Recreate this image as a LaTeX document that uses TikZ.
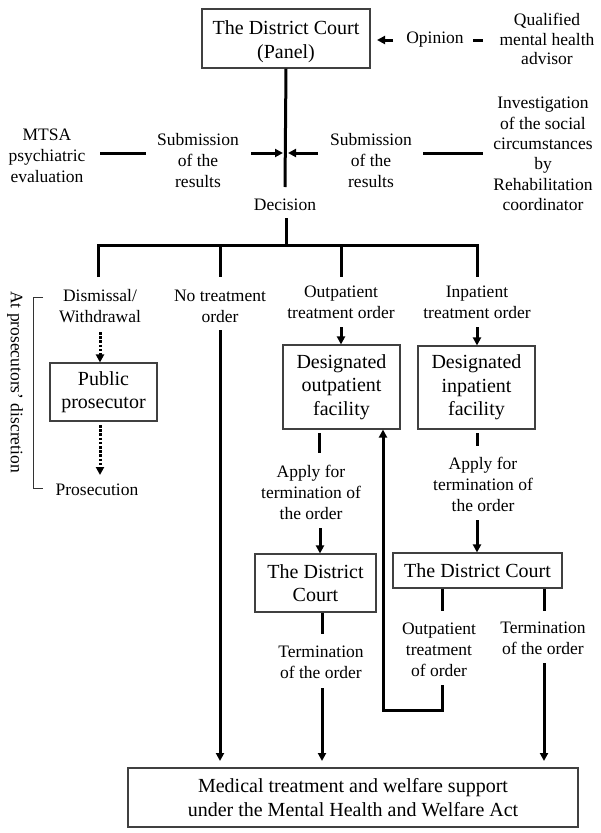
\documentclass[tikz,border=0pt]{standalone}
\usepackage{fontspec}
\setmainfont{Liberation Serif}
\usetikzlibrary{arrows.meta}
\begin{document}
\begin{tikzpicture}[x=1pt,y=-1pt,
  lbl/.style={align=center,font=\fontsize{17.5}{21}\selectfont,inner sep=0pt},
  box/.style={draw=black!75,line width=1.1pt,align=center,font=\fontsize{20}{23.5}\selectfont,inner sep=0pt},
  conn/.style={line width=3pt,line join=miter},
  arr/.style={conn,-{Triangle[length=8pt,width=8pt]}},
  darr/.style={arr,dash pattern=on 2.6pt off 1.6pt},
  brk/.style={line width=1pt,draw=black!80},
]
\useasboundingbox (0,0) rectangle (600,833);

% boxes
\node[box,minimum width=168pt,minimum height=59pt,font=\fontsize{20}{24}\selectfont] (top) at (286,38.5) {\rule{0pt}{20pt}The District Court\\(Panel)};
\node[box,minimum width=107pt,minimum height=58pt] (pros) at (103.5,392) {Public\\prosecutor};
\node[box,minimum width=117pt,minimum height=84pt] (outfac) at (341.5,387) {Designated\\outpatient\\facility};
\node[box,minimum width=117pt,minimum height=83pt] (infac) at (476.5,387.5) {Designated\\inpatient\\facility};
\node[box,minimum width=121pt,minimum height=58pt] (dc1) at (315.5,583) {The District\\Court};
\node[box,minimum width=169pt,minimum height=35pt] (dc2) at (477.5,570.5) {The District Court};
\node[box,minimum width=450pt,minimum height=59pt] (med) at (353,797.5) {Medical treatment and welfare support\\under the Mental Health and Welfare Act};

% labels
\node[lbl] (opinion) at (435,40) {Opinion};
\node[lbl,font=\fontsize{17.5}{19.5}\selectfont] (qual) at (547,39) {Qualified\\mental health\\advisor};
\node[lbl] (mtsa) at (47,156) {MTSA\\psychiatric\\evaluation};
\node[lbl] (sub1) at (198,161) {Submission\\of the\\results};
\node[lbl] (sub2) at (371,161) {Submission\\of the\\results};
\node[lbl,font=\fontsize{17.5}{20.4}\selectfont] (inv) at (543,154) {Investigation\\of the social\\circumstances\\by\\Rehabilitation\\coordinator};
\node[lbl] (dec) at (285,205) {Decision};
\node[lbl] (dism) at (100,306) {Dismissal/\\Withdrawal};
\node[lbl] (notr) at (220,306) {No treatment\\order};
\node[lbl] (outord) at (341,302) {Outpatient\\treatment order};
\node[lbl] (inord) at (477,302) {Inpatient\\treatment order};
\node[lbl] (prosec) at (97,490) {Prosecution};
\node[lbl,rotate=-90] (discr) at (15,382) {At prosecutors' discretion};
\node[lbl] (apply1) at (311,492) {Apply for\\termination of\\the order};
\node[lbl] (apply2) at (483,484) {Apply for\\termination of\\the order};
\node[lbl] (term1) at (321,662.5) {Termination\\of the order};
\node[lbl] (outtr) at (439,650) {Outpatient\\treatment\\of order};
\node[lbl] (term2) at (543,638.5) {Termination\\of the order};

% coordinates
\coordinate (op1) at (393,40);
\coordinate (op2) at (377,40);
\coordinate (q1) at (473,40);
\coordinate (q2) at (483,40);
\coordinate (vbot) at (285,187);
\coordinate (la1) at (251,153);
\coordinate (la2) at (283,153);
\coordinate (ra1) at (318,153);
\coordinate (ra2) at (288,153);
\coordinate (ld1) at (100,153);
\coordinate (ld2) at (146,153);
\coordinate (rd1) at (423,153);
\coordinate (rd2) at (483,153);
\coordinate (dtop) at (286,218);
\coordinate (hmid) at (286,245);
\coordinate (b1t) at (98,245);
\coordinate (b1b) at (98,277);
\coordinate (b2t) at (220,245);
\coordinate (b2b) at (220,277);
\coordinate (b3t) at (341,245);
\coordinate (b3b) at (341,277);
\coordinate (b4t) at (477,245);
\coordinate (b4b) at (477,277);
\coordinate (da1) at (100,332);
\coordinate (db1) at (100,425);
\coordinate (db2) at (100,475);
\coordinate (k1) at (43,297);
\coordinate (k2) at (33,297);
\coordinate (k3) at (33,488);
\coordinate (k4) at (43,488);
\coordinate (nt1) at (220,330);
\coordinate (nt2) at (220,761);
\coordinate (oa1) at (341,327);
\coordinate (ia1) at (477,327);
\coordinate (s1a) at (319,433);
\coordinate (s1b) at (319,453);
\coordinate (s2a) at (477,433);
\coordinate (s2b) at (477,446);
\coordinate (ap1) at (320,528);
\coordinate (ap2) at (477,520);
\coordinate (t1a) at (322,634);
\coordinate (t1b) at (322,688);
\coordinate (t1c) at (322,761);
\coordinate (u1) at (442,611);
\coordinate (u2) at (442,685);
\coordinate (u3) at (442,710);
\coordinate (u4) at (383,710);
\coordinate (r1) at (544,611);
\coordinate (r2) at (544,663);
\coordinate (r3) at (544,761);

% connectors
\draw[arr] (op1) -- (op2);
\draw[conn] (q1) -- (q2);
\draw[conn] (top.south) -- (vbot);
\draw[arr] (la1) -- (la2);
\draw[arr] (ra1) -- (ra2);
\draw[conn] (ld1) -- (ld2);
\draw[conn] (rd1) -- (rd2);
\draw[conn] (dtop) -- (hmid);
\draw[conn] (b1b) -- (b1t) -- (b4t) -- (b4b);
\draw[conn] (b2t) -- (b2b);
\draw[conn] (b3t) -- (b3b);
\draw[darr] (da1) -- (pros.north -| da1);
\draw[darr] (db1) -- (db2);
\draw[brk] (k1) -- (k2) -- (k3) -- (k4);
\draw[arr] (nt1) -- (nt2);
\draw[arr] (oa1) -- (outfac.north -| oa1);
\draw[arr] (ia1) -- (infac.north -| ia1);
\draw[conn] (s1a) -- (s1b);
\draw[conn] (s2a) -- (s2b);
\draw[arr] (ap1) -- (dc1.north -| ap1);
\draw[arr] (ap2) -- (dc2.north -| ap2);
\draw[conn] (dc1.south -| t1a) -- (t1a);
\draw[arr] (t1b) -- (t1c);
\draw[conn] (dc2.south -| u1) -- (u1);
\draw[arr] (u2) -- (u3) -- (u4) -- (outfac.south -| u4);
\draw[conn] (dc2.south -| r1) -- (r1);
\draw[arr] (r2) -- (r3);
\end{tikzpicture}
\end{document}
